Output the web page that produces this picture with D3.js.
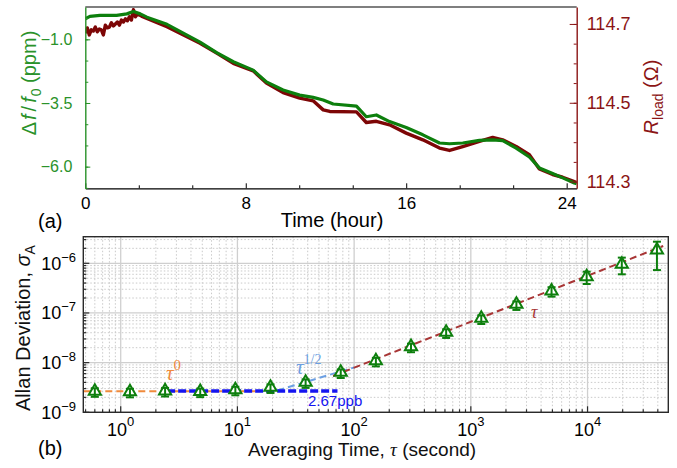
<!DOCTYPE html>
<html>
<head>
<meta charset="utf-8">
<script src="https://cdn.jsdelivr.net/npm/d3@7"></script>
<style>
  body { margin: 0; background: #fff; }
  svg text { font-family: "Liberation Sans", Arial, sans-serif; }
</style>
</head>
<body>
<script>
// ---- panel (a): frequency shift and load resistance vs time ----
let horasVerde = [0, 0.23, 0.73, 1.56, 2.07, 2.4, 2.74, 3.07, 4.07, 5.72, 6.55, 7.38, 8.37, 9.03,
  9.86, 10.69, 11.36, 11.86, 12.36, 13.52, 14.01, 14.51, 15.17, 16.0, 16.83, 17.66, 18.16, 18.82,
  19.65, 20.31, 20.81, 21.48, 22.14, 22.64, 23.3, 23.8, 24.38, 24.5];
let desvio = [-0.19, -0.10, -0.06, -0.06, 0.00, 0.09, 0.00, -0.13, -0.41, -1.11, -1.52, -1.88, -2.21,
  -2.67, -2.99, -3.19, -3.28, -3.38, -3.54, -3.62, -4.04, -3.97, -4.23, -4.46, -4.75, -5.07, -5.10,
  -5.07, -4.97, -4.95, -4.98, -5.27, -5.62, -6.05, -6.27, -6.44, -6.64, -6.67];

let horasRojo = [0, 0.1, 0.2, 0.3, 0.4, 0.5, 0.6, 0.7, 0.8, 0.9, 1.0, 1.1, 1.2, 1.3, 1.4, 1.5, 1.6,
  1.7, 1.8, 1.9, 2.0, 2.1, 2.2, 2.3, 2.4, 2.5, 2.6, 2.8, 4.07, 5.72, 6.55, 7.38, 8.37, 9.03, 9.86,
  10.69, 11.36, 11.86, 12.19, 13.52, 14.01, 14.51, 15.17, 16.0, 16.83, 17.66, 18.16, 18.82, 19.65,
  20.31, 20.81, 21.48, 22.14, 22.64, 23.3, 23.8, 24.38, 24.5];
let rCarga = [114.677, 114.690, 114.672, 114.685, 114.682, 114.692, 114.680, 114.687, 114.685,
  114.672, 114.697, 114.690, 114.692, 114.703, 114.695, 114.700, 114.705, 114.697, 114.710,
  114.705, 114.713, 114.708, 114.718, 114.710, 114.736, 114.718, 114.725, 114.720, 114.693,
  114.651, 114.626, 114.600, 114.581, 114.550, 114.526, 114.512, 114.505, 114.482, 114.478,
  114.477, 114.450, 114.453, 114.444, 114.423, 114.406, 114.385, 114.379, 114.389, 114.402,
  114.412, 114.406, 114.389, 114.368, 114.332, 114.318, 114.311, 114.300, 114.298];

let ticksHora = [0, 8, 16, 24];
let ticksDesvio = [-1.0, -3.5, -6.0];
let ticksR = [114.3, 114.5, 114.7];

// ---- panel (b): Allan deviation ----
let tau = [0.6, 1.2, 2.4, 4.8, 9.6, 19.2, 38.4, 76.8, 153.6, 307.2, 614.4, 1228.8, 2457.6,
  4915.2, 9830.4, 19660.8, 39321.6];
let allan = [2.66e-9, 2.6e-9, 2.7e-9, 2.62e-9, 2.85e-9, 3.18e-9, 4.02e-9, 6.38e-9, 1.09e-8,
  2.1e-8, 4.08e-8, 7.8e-8, 1.49e-7, 2.77e-7, 5.37e-7, 9.55e-7, 1.85e-6];
let allanBajo = [2.05e-9, 2.0e-9, 2.08e-9, 2.02e-9, 2.2e-9, 2.45e-9, 3.1e-9, 4.9e-9, 8.4e-9,
  1.62e-8, 3.14e-8, 6.0e-8, 1.15e-7, 2.13e-7, 3.83e-7, 6.0e-7, 7.3e-7];
let allanAlto = [3.05e-9, 2.98e-9, 3.1e-9, 3.0e-9, 3.27e-9, 3.65e-9, 4.6e-9, 7.3e-9, 1.25e-8,
  2.41e-8, 4.7e-8, 8.95e-8, 1.71e-7, 3.3e-7, 6.78e-7, 1.30e-6, 2.72e-6];
let ticksTau = [1, 10, 100, 1000, 10000];
let ticksAllan = [1e-9, 1e-8, 1e-7, 1e-6];

// reference slopes: [tau start, tau end, sigma start, sigma end]
let rectaT0 = [0.478, 15, 2.66e-9, 2.66e-9];
let rectaPiso = [2.5, 72, 2.67e-9, 2.67e-9];
let rectaT12 = [22, 100, 2.75e-9, 8.0e-9];
let rectaT1 = [66, 44500, 5.38e-9, 2.23e-6];

let verde = "#0d7f0d";
let verdeTexto = "#2a922a";
let rojo = "#7d0606";
let rojoTexto = "#8b1515";

function graficar() {
  let w = 677;
  let h = 468;
  let svg = d3.select("body").append("svg").attr("width", w).attr("height", h);

  // ================= panel (a) =================
  let a = { l: 85.3, r: 576.7, t: 7, b: 188.3 };
  let x = d3.scaleLinear().domain([0, 24.5]).range([a.l, a.r]);
  let yI = d3.scaleLinear().domain([-6.85, 0.27]).range([a.b, a.t]);
  let yD = d3.scaleLinear().domain([114.283, 114.743]).range([a.b, a.t]);

  svg.append("clipPath").attr("id", "clipA")
    .append("rect").attr("x", a.l).attr("y", a.t).attr("width", a.r - a.l).attr("height", a.b - a.t);

  let lineaRojo = d3.line().x((d, i) => x(horasRojo[i])).y(d => yD(d));
  let lineaVerde = d3.line().x((d, i) => x(horasVerde[i])).y(d => yI(d));

  svg.append("path").datum(rCarga).attr("d", lineaRojo)
    .attr("fill", "none").attr("stroke", rojo).attr("stroke-width", 3.4)
    .attr("stroke-linejoin", "round").attr("clip-path", "url(#clipA)");
  svg.append("path").datum(desvio).attr("d", lineaVerde)
    .attr("fill", "none").attr("stroke", verde).attr("stroke-width", 3.2)
    .attr("stroke-linejoin", "round").attr("clip-path", "url(#clipA)");

  // top border
  svg.append("line").attr("x1", a.l).attr("x2", a.r).attr("y1", a.t).attr("y2", a.t)
    .attr("stroke", "#000").attr("stroke-width", 1.2);

  // bottom axis
  let menorHora = d3.range(0, 24.6, 8 / 3).filter(v => Math.abs(v / 8 - Math.round(v / 8)) > 0.01);
  svg.append("g").attr("transform", `translate(0,${a.b})`)
    .call(d3.axisBottom(x).tickValues(menorHora).tickSize(-3).tickSizeOuter(0).tickFormat(""))
    .call(g => g.select(".domain").remove())
    .call(g => g.selectAll("line").attr("stroke", "#000"));
  svg.append("g").attr("transform", `translate(0,${a.b})`)
    .call(d3.axisBottom(x).tickValues(ticksHora).tickSize(-5).tickSizeOuter(0).tickPadding(9))
    .call(g => g.select(".domain").attr("stroke", "#000").attr("stroke-width", 1.2))
    .call(g => g.selectAll("line").attr("stroke", "#000"))
    .call(g => g.selectAll("text").attr("font-size", 17).attr("fill", "#000")
      .style("font-family", '"Liberation Sans", Arial, sans-serif'));

  // left axis (green)
  let menorDesvio = [];
  for (let v = -6.0 - 2.5 / 3; v < 0.3; v += 2.5 / 3) menorDesvio.push(v);
  svg.append("g").attr("transform", `translate(${a.l},0)`)
    .call(d3.axisLeft(yI).tickValues(menorDesvio.filter(v => v > -6.85 && v < 0.27)).tickSize(-3).tickSizeOuter(0).tickFormat(""))
    .call(g => g.select(".domain").remove())
    .call(g => g.selectAll("line").attr("stroke", verdeTexto));
  svg.append("g").attr("transform", `translate(${a.l},0)`)
    .call(d3.axisLeft(yI).tickValues(ticksDesvio).tickSize(-5).tickSizeOuter(0).tickPadding(13)
      .tickFormat(d3.format(".1f")))
    .call(g => g.select(".domain").attr("stroke", verdeTexto).attr("stroke-width", 1.4))
    .call(g => g.selectAll("line").attr("stroke", verdeTexto))
    .call(g => g.selectAll("text").attr("font-size", 16).attr("fill", verdeTexto)
      .style("font-family", '"Liberation Sans", Arial, sans-serif'));

  // right axis (dark red)
  let menorR = d3.range(114.3, 114.741, 0.05);
  svg.append("g").attr("transform", `translate(${a.r},0)`)
    .call(d3.axisRight(yD).tickValues(menorR).tickSize(-3).tickSizeOuter(0).tickFormat(""))
    .call(g => g.select(".domain").remove())
    .call(g => g.selectAll("line").attr("stroke", rojoTexto));
  svg.append("g").attr("transform", `translate(${a.r},0)`)
    .call(d3.axisRight(yD).tickValues(ticksR).tickSize(-7).tickSizeOuter(0).tickPadding(10)
      .tickFormat(d3.format(".1f")))
    .call(g => g.select(".domain").attr("stroke", rojoTexto).attr("stroke-width", 1.4))
    .call(g => g.selectAll("line").attr("stroke", rojoTexto))
    .call(g => g.selectAll("text").attr("font-size", 18).attr("fill", rojoTexto)
      .style("font-family", '"Liberation Sans", Arial, sans-serif'));

  // titles of panel (a)
  let tI = svg.append("text").attr("transform", "translate(36,83) rotate(-90)")
    .attr("text-anchor", "middle").attr("font-size", 20).attr("fill", verdeTexto);
  tI.append("tspan").text("Δ");
  tI.append("tspan").attr("font-style", "italic").attr("dx", 2).text("f");
  tI.append("tspan").attr("dx", 3).text("/");
  tI.append("tspan").attr("font-style", "italic").attr("dx", 3).text("f");
  tI.append("tspan").attr("font-size", 14).attr("dy", 5).attr("dx", 1).text("0");
  tI.append("tspan").attr("dy", -5).text(" (ppm)");

  let tD = svg.append("text").attr("transform", "translate(658,97) rotate(-90)")
    .attr("text-anchor", "middle").attr("font-size", 20).attr("fill", rojoTexto);
  tD.append("tspan").attr("font-style", "italic").text("R");
  tD.append("tspan").attr("font-size", 14).attr("dy", 5).text("load");
  tD.append("tspan").attr("dy", -5).text(" (Ω)");

  svg.append("text").attr("x", 38).attr("y", 228).attr("font-size", 20).text("(a)");
  svg.append("text").attr("x", 332).attr("y", 227).attr("text-anchor", "middle")
    .attr("font-size", 20).text("Time (hour)");

  // ================= panel (b) =================
  let b = { l: 83.3, r: 668.3, t: 236.7, b: 412.3 };
  let xl = d3.scaleLog().domain([0.478, 49200]).range([b.l, b.r]);
  let yl = d3.scaleLog().domain([1e-9, 3.43e-6]).range([b.b, b.t]);

  let menorTau = [];
  for (let e = -1; e <= 4; e++) for (let k = 2; k <= 9; k++) {
    let v = k * Math.pow(10, e);
    if (v > 0.478 && v < 49200) menorTau.push(v);
  }
  let menorAllan = [];
  for (let e = -9; e <= -6; e++) for (let k = 2; k <= 9; k++) {
    let v = k * Math.pow(10, e);
    if (v > 1e-9 && v < 3.43e-6) menorAllan.push(v);
  }

  // grid
  let rejilla = svg.append("g");
  rejilla.selectAll(".gmx").data(menorTau).enter().append("line")
    .attr("x1", d => xl(d)).attr("x2", d => xl(d)).attr("y1", b.t).attr("y2", b.b)
    .attr("stroke", "#c4c4c4").attr("stroke-width", 0.9).attr("stroke-dasharray", "1.5,2");
  rejilla.selectAll(".gmy").data(menorAllan).enter().append("line")
    .attr("x1", b.l).attr("x2", b.r).attr("y1", d => yl(d)).attr("y2", d => yl(d))
    .attr("stroke", "#c4c4c4").attr("stroke-width", 0.9).attr("stroke-dasharray", "1.5,2");
  rejilla.selectAll(".gx").data(ticksTau).enter().append("line")
    .attr("x1", d => xl(d)).attr("x2", d => xl(d)).attr("y1", b.t).attr("y2", b.b)
    .attr("stroke", "#cfcfcf").attr("stroke-width", 1.3);
  rejilla.selectAll(".gy").data(ticksAllan).enter().append("line")
    .attr("x1", b.l).attr("x2", b.r).attr("y1", d => yl(d)).attr("y2", d => yl(d))
    .attr("stroke", "#cfcfcf").attr("stroke-width", 1.3);

  // reference lines
  function recta(r, color, ancho, guion) {
    svg.append("line")
      .attr("x1", xl(r[0])).attr("x2", xl(r[1])).attr("y1", yl(r[2])).attr("y2", yl(r[3]))
      .attr("stroke", color).attr("stroke-width", ancho).attr("stroke-dasharray", guion);
  }
  recta(rectaT0, "#f08a3c", 2, "7,4");
  recta(rectaT12, "#6c9fe2", 2, "7,4");
  recta(rectaT1, "#a83636", 2, "7,4");
  recta(rectaPiso, "#1414f0", 3.5, "8,3");

  // triangles (open, white inside)
  svg.selectAll(".tri").data(tau).enter().append("path")
    .attr("d", d3.symbol().type(d3.symbolTriangle).size(64))
    .attr("transform", (d, i) => `translate(${xl(d)},${yl(allan[i])})`)
    .attr("fill", "#fff").attr("stroke", verde).attr("stroke-width", 2);

  // error bars
  let barras = svg.append("g").attr("stroke", verde).attr("stroke-width", 2);
  barras.selectAll(".v").data(tau).enter().append("line")
    .attr("x1", d => xl(d)).attr("x2", d => xl(d))
    .attr("y1", (d, i) => yl(allanAlto[i])).attr("y2", (d, i) => yl(allanBajo[i]));
  barras.selectAll(".s").data(tau).enter().append("line")
    .attr("x1", d => xl(d) - 4).attr("x2", d => xl(d) + 4)
    .attr("y1", (d, i) => yl(allanAlto[i])).attr("y2", (d, i) => yl(allanAlto[i]));
  barras.selectAll(".i").data(tau).enter().append("line")
    .attr("x1", d => xl(d) - 4).attr("x2", d => xl(d) + 4)
    .attr("y1", (d, i) => yl(allanBajo[i])).attr("y2", (d, i) => yl(allanBajo[i]));

  // frame
  svg.append("rect").attr("x", b.l).attr("y", b.t).attr("width", b.r - b.l).attr("height", b.b - b.t)
    .attr("fill", "none").attr("stroke", "#2a2a2a").attr("stroke-width", 1.4);

  // inward ticks
  let marcas = svg.append("g").attr("stroke", "#2a2a2a").attr("stroke-width", 1.2);
  marcas.selectAll(".mx").data(menorTau).enter().append("line")
    .attr("x1", d => xl(d)).attr("x2", d => xl(d)).attr("y1", b.b).attr("y2", b.b - 3);
  marcas.selectAll(".Mx").data(ticksTau).enter().append("line")
    .attr("x1", d => xl(d)).attr("x2", d => xl(d)).attr("y1", b.b).attr("y2", b.b - 6);
  marcas.selectAll(".my").data(menorAllan).enter().append("line")
    .attr("x1", b.l).attr("x2", b.l + 3).attr("y1", d => yl(d)).attr("y2", d => yl(d));
  marcas.selectAll(".My").data(ticksAllan).enter().append("line")
    .attr("x1", b.l).attr("x2", b.l + 6).attr("y1", d => yl(d)).attr("y2", d => yl(d));

  // tick labels
  let etX = svg.selectAll(".etx").data(ticksTau).enter().append("text")
    .attr("x", d => xl(d)).attr("y", 436).attr("text-anchor", "middle").attr("font-size", 18);
  etX.append("tspan").text("10");
  etX.append("tspan").attr("font-size", 13).attr("dy", -10).text(d => Math.round(Math.log10(d)));

  let etY = svg.selectAll(".ety").data(ticksAllan).enter().append("text")
    .attr("x", 76).attr("y", d => yl(d) + 6.5).attr("text-anchor", "end").attr("font-size", 18);
  etY.append("tspan").text("10");
  etY.append("tspan").attr("font-size", 13).attr("dy", -8)
    .text(d => "\u2212" + Math.abs(Math.round(Math.log10(d))));

  // annotations
  let an0 = svg.append("text").attr("x", 166).attr("y", 380).attr("fill", "#f08a3c")
    .style("font-family", '"Liberation Serif", "DejaVu Serif", serif').attr("font-size", 21);
  an0.append("tspan").attr("font-style", "italic").text("τ");
  an0.append("tspan").attr("font-size", 15).attr("dy", -10).text("0");

  let an12 = svg.append("text").attr("x", 296).attr("y", 374).attr("fill", "#6c9fe2")
    .style("font-family", '"Liberation Serif", "DejaVu Serif", serif').attr("font-size", 21);
  an12.append("tspan").attr("font-style", "italic").text("τ");
  an12.append("tspan").attr("font-size", 14).attr("dy", -10).text("1/2");

  svg.append("text").attr("x", 531).attr("y", 318).attr("fill", "#a83636")
    .style("font-family", '"Liberation Serif", "DejaVu Serif", serif').attr("font-style", "italic")
    .attr("font-size", 18).text("τ");

  svg.append("text").attr("x", 308).attr("y", 406).attr("fill", "#1414f0")
    .attr("font-size", 15).text("2.67ppb");

  // titles of panel (b)
  let tA = svg.append("text").attr("transform", "translate(30,328) rotate(-90)")
    .attr("text-anchor", "middle").attr("font-size", 20).attr("fill", "#111");
  tA.append("tspan").text("Allan Deviation, ");
  tA.append("tspan").attr("font-style", "italic").text("σ");
  tA.append("tspan").attr("font-size", 14).attr("dy", 5).text("A");

  svg.append("text").attr("x", 38).attr("y", 455).attr("font-size", 20).text("(b)");
  let tX = svg.append("text").attr("x", 362).attr("y", 456).attr("text-anchor", "middle")
    .attr("font-size", 19).attr("fill", "#111");
  tX.append("tspan").text("Averaging Time,  ");
  tX.append("tspan").attr("font-style", "italic")
    .style("font-family", '"Liberation Serif", "DejaVu Serif", serif').text("τ");
  tX.append("tspan").text(" (second)");
}

graficar();
</script>
</body>
</html>
